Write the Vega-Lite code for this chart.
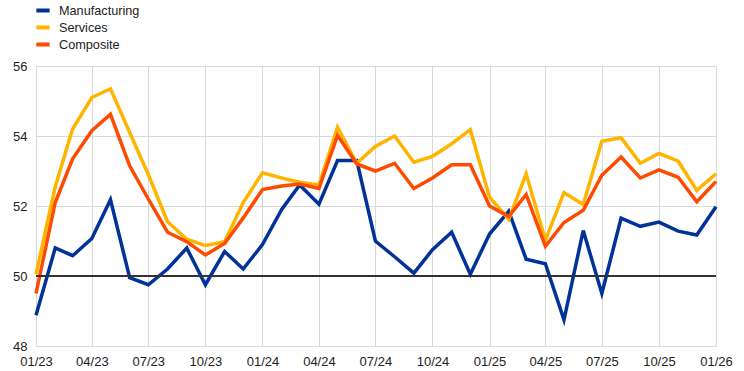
{
  "$schema": "https://vega.github.io/schema/vega-lite/v6.json",
  "width": 680,
  "height": 280,
  "autosize": {"type": "none"},
  "padding": {"left": 36, "top": 66, "right": 28, "bottom": 25},
  "config": {
    "font": "Liberation Sans",
    "view": {"stroke": null},
    "axis": {"labelFont": "Liberation Sans", "labelFontSize": 13, "labelColor": "#222222", "gridColor": "#d9d9d9", "gridWidth": 1, "domain": false, "ticks": false, "title": null}
  },
  "data": {"values": [
    {"date":"2023-01-01","series":"Manufacturing","value":48.88},
    {"date":"2023-02-01","series":"Manufacturing","value":50.8},
    {"date":"2023-03-01","series":"Manufacturing","value":50.58},
    {"date":"2023-04-01","series":"Manufacturing","value":51.07},
    {"date":"2023-05-01","series":"Manufacturing","value":52.18},
    {"date":"2023-06-01","series":"Manufacturing","value":49.95},
    {"date":"2023-07-01","series":"Manufacturing","value":49.75},
    {"date":"2023-08-01","series":"Manufacturing","value":50.2},
    {"date":"2023-09-01","series":"Manufacturing","value":50.8},
    {"date":"2023-10-01","series":"Manufacturing","value":49.75},
    {"date":"2023-11-01","series":"Manufacturing","value":50.7},
    {"date":"2023-12-01","series":"Manufacturing","value":50.2},
    {"date":"2024-01-01","series":"Manufacturing","value":50.9},
    {"date":"2024-02-01","series":"Manufacturing","value":51.9},
    {"date":"2024-03-01","series":"Manufacturing","value":52.6},
    {"date":"2024-04-01","series":"Manufacturing","value":52.05},
    {"date":"2024-05-01","series":"Manufacturing","value":53.3},
    {"date":"2024-06-01","series":"Manufacturing","value":53.3},
    {"date":"2024-07-01","series":"Manufacturing","value":51.0},
    {"date":"2024-08-01","series":"Manufacturing","value":50.55},
    {"date":"2024-09-01","series":"Manufacturing","value":50.08},
    {"date":"2024-10-01","series":"Manufacturing","value":50.75},
    {"date":"2024-11-01","series":"Manufacturing","value":51.25},
    {"date":"2024-12-01","series":"Manufacturing","value":50.05},
    {"date":"2025-01-01","series":"Manufacturing","value":51.2},
    {"date":"2025-02-01","series":"Manufacturing","value":51.85},
    {"date":"2025-03-01","series":"Manufacturing","value":50.48},
    {"date":"2025-04-01","series":"Manufacturing","value":50.35},
    {"date":"2025-05-01","series":"Manufacturing","value":48.75},
    {"date":"2025-06-01","series":"Manufacturing","value":51.3},
    {"date":"2025-07-01","series":"Manufacturing","value":49.5},
    {"date":"2025-08-01","series":"Manufacturing","value":51.65},
    {"date":"2025-09-01","series":"Manufacturing","value":51.42},
    {"date":"2025-10-01","series":"Manufacturing","value":51.54},
    {"date":"2025-11-01","series":"Manufacturing","value":51.28},
    {"date":"2025-12-01","series":"Manufacturing","value":51.17},
    {"date":"2026-01-01","series":"Manufacturing","value":51.98},
    {"date":"2023-01-01","series":"Services","value":50.05},
    {"date":"2023-02-01","series":"Services","value":52.55},
    {"date":"2023-03-01","series":"Services","value":54.2},
    {"date":"2023-04-01","series":"Services","value":55.1},
    {"date":"2023-05-01","series":"Services","value":55.35},
    {"date":"2023-06-01","series":"Services","value":54.1},
    {"date":"2023-07-01","series":"Services","value":52.9},
    {"date":"2023-08-01","series":"Services","value":51.55},
    {"date":"2023-09-01","series":"Services","value":51.05},
    {"date":"2023-10-01","series":"Services","value":50.87},
    {"date":"2023-11-01","series":"Services","value":50.98},
    {"date":"2023-12-01","series":"Services","value":52.1},
    {"date":"2024-01-01","series":"Services","value":52.95},
    {"date":"2024-02-01","series":"Services","value":52.8},
    {"date":"2024-03-01","series":"Services","value":52.68},
    {"date":"2024-04-01","series":"Services","value":52.6},
    {"date":"2024-05-01","series":"Services","value":54.25},
    {"date":"2024-06-01","series":"Services","value":53.22},
    {"date":"2024-07-01","series":"Services","value":53.7},
    {"date":"2024-08-01","series":"Services","value":54.0},
    {"date":"2024-09-01","series":"Services","value":53.25},
    {"date":"2024-10-01","series":"Services","value":53.42},
    {"date":"2024-11-01","series":"Services","value":53.78},
    {"date":"2024-12-01","series":"Services","value":54.18},
    {"date":"2025-01-01","series":"Services","value":52.25},
    {"date":"2025-02-01","series":"Services","value":51.62},
    {"date":"2025-03-01","series":"Services","value":52.92},
    {"date":"2025-04-01","series":"Services","value":51.02},
    {"date":"2025-05-01","series":"Services","value":52.38},
    {"date":"2025-06-01","series":"Services","value":52.04},
    {"date":"2025-07-01","series":"Services","value":53.85},
    {"date":"2025-08-01","series":"Services","value":53.95},
    {"date":"2025-09-01","series":"Services","value":53.22},
    {"date":"2025-10-01","series":"Services","value":53.5},
    {"date":"2025-11-01","series":"Services","value":53.28},
    {"date":"2025-12-01","series":"Services","value":52.45},
    {"date":"2026-01-01","series":"Services","value":52.92},
    {"date":"2023-01-01","series":"Composite","value":49.5},
    {"date":"2023-02-01","series":"Composite","value":52.1},
    {"date":"2023-03-01","series":"Composite","value":53.35},
    {"date":"2023-04-01","series":"Composite","value":54.15},
    {"date":"2023-05-01","series":"Composite","value":54.62},
    {"date":"2023-06-01","series":"Composite","value":53.15},
    {"date":"2023-07-01","series":"Composite","value":52.2},
    {"date":"2023-08-01","series":"Composite","value":51.25},
    {"date":"2023-09-01","series":"Composite","value":50.98},
    {"date":"2023-10-01","series":"Composite","value":50.6},
    {"date":"2023-11-01","series":"Composite","value":50.93},
    {"date":"2023-12-01","series":"Composite","value":51.66},
    {"date":"2024-01-01","series":"Composite","value":52.47},
    {"date":"2024-02-01","series":"Composite","value":52.57},
    {"date":"2024-03-01","series":"Composite","value":52.63},
    {"date":"2024-04-01","series":"Composite","value":52.5},
    {"date":"2024-05-01","series":"Composite","value":54.02},
    {"date":"2024-06-01","series":"Composite","value":53.2},
    {"date":"2024-07-01","series":"Composite","value":53.0},
    {"date":"2024-08-01","series":"Composite","value":53.22},
    {"date":"2024-09-01","series":"Composite","value":52.5},
    {"date":"2024-10-01","series":"Composite","value":52.8},
    {"date":"2024-11-01","series":"Composite","value":53.18},
    {"date":"2024-12-01","series":"Composite","value":53.18},
    {"date":"2025-01-01","series":"Composite","value":52.0},
    {"date":"2025-02-01","series":"Composite","value":51.7},
    {"date":"2025-03-01","series":"Composite","value":52.33},
    {"date":"2025-04-01","series":"Composite","value":50.85},
    {"date":"2025-05-01","series":"Composite","value":51.53},
    {"date":"2025-06-01","series":"Composite","value":51.88},
    {"date":"2025-07-01","series":"Composite","value":52.88},
    {"date":"2025-08-01","series":"Composite","value":53.4},
    {"date":"2025-09-01","series":"Composite","value":52.8},
    {"date":"2025-10-01","series":"Composite","value":53.03},
    {"date":"2025-11-01","series":"Composite","value":52.82},
    {"date":"2025-12-01","series":"Composite","value":52.12},
    {"date":"2026-01-01","series":"Composite","value":52.7}
  ]},
  "layer": [
    {
      "mark": {"type": "line", "strokeWidth": 3.5, "strokeJoin": "miter", "strokeCap": "butt"},
      "encoding": {
        "x": {
          "field": "date", "type": "temporal",
          "scale": {"type": "utc", "nice": false},
          "axis": {"format": "%m/%y", "tickCount": {"interval": "month", "step": 3}, "labelPadding": 9, "labelFlush": false, "labelOverlap": false}
        },
        "y": {
          "field": "value", "type": "quantitative",
          "scale": {"domain": [48, 56], "nice": false, "zero": false},
          "axis": {"values": [48, 50, 52, 54, 56], "labelPadding": 9}
        },
        "color": {
          "field": "series", "type": "nominal",
          "sort": ["Manufacturing", "Services", "Composite"],
          "scale": {"domain": ["Manufacturing", "Services", "Composite"], "range": ["#003299", "#FFB400", "#FF4B00"]},
          "legend": {
            "title": null, "orient": "none", "legendX": -2, "legendY": -64.5,
            "symbolType": "stroke", "symbolStrokeWidth": 4, "symbolSize": 177,
            "labelFontSize": 12.7, "labelColor": "#222222", "rowPadding": -4.5, "labelOffset": 7
          }
        }
      }
    },
    {
      "mark": {"type": "rule", "color": "#333333", "strokeWidth": 1},
      "encoding": {"y": {"datum": 50, "type": "quantitative"}}
    }
  ]
}
